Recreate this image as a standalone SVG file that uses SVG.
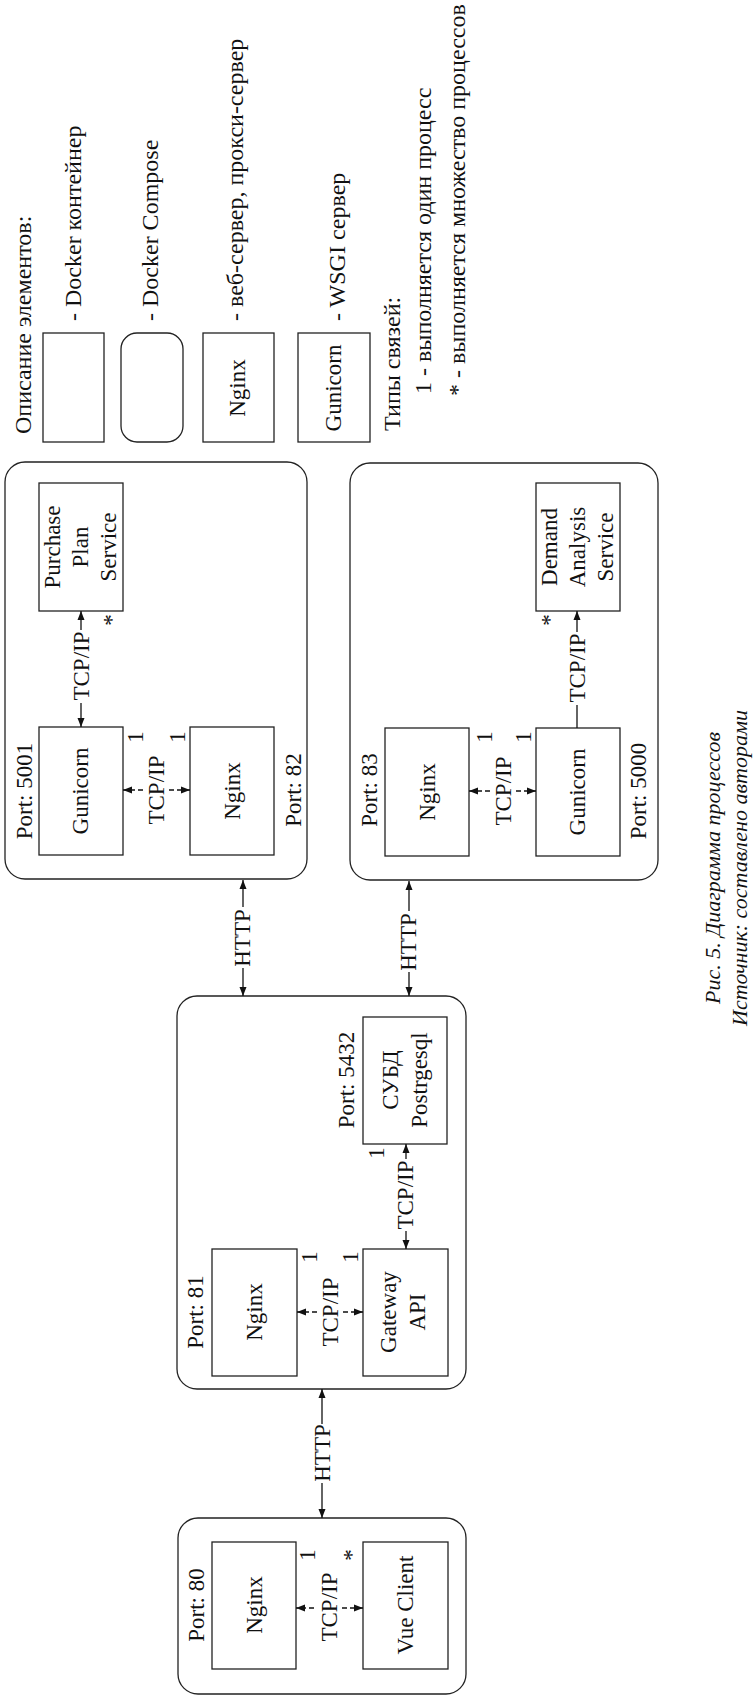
<svg xmlns="http://www.w3.org/2000/svg" width="753" height="1702" viewBox="0 0 753 1702">
<defs>
<marker id="ah" markerUnits="userSpaceOnUse" markerWidth="10" markerHeight="8" refX="9" refY="4" orient="auto"><path d="M0,0.5 L9,4 L0,7.5 z" fill="#111"/></marker>
</defs>
<style>
.t{font-family:"Liberation Serif","Times New Roman",serif;font-size:23px;fill:#111}
.lg{font-size:24px}
.m{text-anchor:middle}
.box{fill:#fff;stroke:#222;stroke-width:1.3}
.cont{fill:none;stroke:#222;stroke-width:1.3}
.ln{stroke:#111;stroke-width:1.3;fill:none}
.ar{marker-end:url(#ah)}
.dash{stroke-dasharray:5 3}
.cap{font-style:italic;font-size:22px}
</style>
<rect width="753" height="1702" fill="#fff"/>

<g id="legend">
<text class="t lg" x="31" y="434" transform="rotate(-90 31 434)">Описание элементов:</text>
<rect class="box" x="43" y="333" width="61" height="109"/>
<text class="t lg" x="81" y="321" transform="rotate(-90 81 321)">- Docker контейнер</text>
<rect class="box" x="121" y="333" width="62" height="109" rx="16"/>
<text class="t lg" x="158" y="321" transform="rotate(-90 158 321)">- Docker Compose</text>
<rect class="box" x="203" y="333" width="71" height="109"/>
<text class="t m" x="245" y="388" transform="rotate(-90 245 388)">Nginx</text>
<text class="t lg" x="243" y="321" transform="rotate(-90 243 321)">- веб-сервер, прокси-сервер</text>
<rect class="box" x="298" y="333" width="72" height="109"/>
<text class="t m" x="341" y="388" transform="rotate(-90 341 388)">Gunicorn</text>
<text class="t lg" x="345" y="321" transform="rotate(-90 345 321)">- WSGI сервер</text>
<text class="t lg" x="400" y="431" transform="rotate(-90 400 431)">Типы связей:</text>
<text class="t lg" x="431" y="394" transform="rotate(-90 431 394)">1 - выполняется один процесс</text>
<text class="t lg" x="465" y="396" transform="rotate(-90 465 396)">* - выполняется множество процессов</text>
</g>

<g id="compose-purchase">
<rect class="cont" x="5" y="462" width="302" height="417" rx="20"/>
<text class="t m" x="32" y="791" transform="rotate(-90 32 791)">Port: 5001</text>
<text class="t m" x="301" y="790" transform="rotate(-90 301 790)">Port: 82</text>
</g>
<g id="purchase-plan-service">
<rect class="box" x="39" y="483" width="84" height="128"/>
<text class="t m" x="60" y="547" transform="rotate(-90 60 547)"><tspan x="60" dy="0">Purchase</tspan><tspan x="60" dy="28">Plan</tspan><tspan x="60" dy="28">Service</tspan></text>
</g>
<g id="gunicorn-5001">
<rect class="box" x="39" y="727" width="84" height="128"/>
<text class="t m" x="88" y="791" transform="rotate(-90 88 791)">Gunicorn</text>
</g>
<g id="nginx-82">
<rect class="box" x="190" y="727" width="84" height="128"/>
<text class="t m" x="240" y="791" transform="rotate(-90 240 791)">Nginx</text>
</g>

<g id="compose-demand">
<rect class="cont" x="350" y="463" width="308" height="417" rx="20"/>
<text class="t m" x="377" y="790" transform="rotate(-90 377 790)">Port: 83</text>
<text class="t m" x="646" y="791" transform="rotate(-90 646 791)">Port: 5000</text>
</g>
<g id="demand-analysis-service">
<rect class="box" x="536" y="483" width="84" height="128"/>
<text class="t m" x="557" y="547" transform="rotate(-90 557 547)"><tspan x="557" dy="0">Demand</tspan><tspan x="557" dy="28">Analysis</tspan><tspan x="557" dy="28">Service</tspan></text>
</g>
<g id="nginx-83">
<rect class="box" x="385" y="728" width="84" height="128"/>
<text class="t m" x="435" y="792" transform="rotate(-90 435 792)">Nginx</text>
</g>
<g id="gunicorn-5000">
<rect class="box" x="536" y="728" width="84" height="128"/>
<text class="t m" x="585" y="792" transform="rotate(-90 585 792)">Gunicorn</text>
</g>

<g id="compose-gateway">
<rect class="cont" x="177" y="996" width="289" height="393" rx="20"/>
<text class="t m" x="203" y="1312" transform="rotate(-90 203 1312)">Port: 81</text>
<text class="t m" x="354" y="1080" transform="rotate(-90 354 1080)">Port: 5432</text>
</g>
<g id="nginx-81">
<rect class="box" x="212" y="1249" width="85" height="127"/>
<text class="t m" x="262" y="1312" transform="rotate(-90 262 1312)">Nginx</text>
</g>
<g id="gateway-api">
<rect class="box" x="363" y="1249" width="85" height="127"/>
<text class="t m" x="396" y="1312" transform="rotate(-90 396 1312)"><tspan x="396" dy="0">Gateway</tspan><tspan x="396" dy="29">API</tspan></text>
</g>
<g id="postgresql">
<rect class="box" x="363" y="1017" width="84" height="127"/>
<text class="t m" x="398" y="1080" transform="rotate(-90 398 1080)"><tspan x="398" dy="0">СУБД</tspan><tspan x="398" dy="29">Postrgesql</tspan></text>
</g>

<g id="compose-client">
<rect class="cont" x="178" y="1518" width="288" height="176" rx="20"/>
<text class="t m" x="204" y="1605" transform="rotate(-90 204 1605)">Port: 80</text>
</g>
<g id="nginx-80">
<rect class="box" x="212" y="1542" width="84" height="127"/>
<text class="t m" x="262" y="1605" transform="rotate(-90 262 1605)">Nginx</text>
</g>
<g id="vue-client">
<rect class="box" x="363" y="1542" width="85" height="127"/>
<text class="t m" x="413" y="1605" transform="rotate(-90 413 1605)">Vue Client</text>
</g>

<g id="connectors">
<line class="ln ar" x1="243" y1="907" x2="243" y2="880"/>
<line class="ln ar" x1="243" y1="968" x2="243" y2="996"/>
<text class="t m" x="250" y="938" transform="rotate(-90 250 938)">HTTP</text>
<line class="ln ar" x1="409" y1="911" x2="409" y2="881"/>
<line class="ln ar" x1="409" y1="972" x2="409" y2="996"/>
<text class="t m" x="416" y="942" transform="rotate(-90 416 942)">HTTP</text>
<line class="ln ar" x1="322" y1="1424" x2="322" y2="1389"/>
<line class="ln ar" x1="322" y1="1483" x2="322" y2="1518"/>
<text class="t m" x="330" y="1453" transform="rotate(-90 330 1453)">HTTP</text>

<line class="ln ar" x1="81" y1="630" x2="81" y2="611"/>
<line class="ln ar" x1="81" y1="703" x2="81" y2="727"/>
<text class="t m" x="89" y="666" transform="rotate(-90 89 666)">TCP/IP</text>
<line class="ln ar dash" x1="143" y1="790" x2="123" y2="790"/>
<line class="ln ar dash" x1="169" y1="790" x2="190" y2="790"/>
<text class="t m" x="164" y="790" transform="rotate(-90 164 790)">TCP/IP</text>
<text class="t m" x="143" y="737" transform="rotate(-90 143 737)">1</text>
<text class="t m" x="185" y="737" transform="rotate(-90 185 737)">1</text>
<text class="t m" x="119" y="620" transform="rotate(-90 119 620)">*</text>

<line class="ln ar" x1="577" y1="632" x2="577" y2="611"/>
<line class="ln" x1="577" y1="705" x2="577" y2="728"/>
<text class="t m" x="585" y="668" transform="rotate(-90 585 668)">TCP/IP</text>
<line class="ln ar dash" x1="490" y1="791" x2="469" y2="791"/>
<line class="ln ar dash" x1="516" y1="791" x2="536" y2="791"/>
<text class="t m" x="511" y="791" transform="rotate(-90 511 791)">TCP/IP</text>
<text class="t m" x="492" y="737" transform="rotate(-90 492 737)">1</text>
<text class="t m" x="531" y="737" transform="rotate(-90 531 737)">1</text>
<text class="t m" x="557" y="620" transform="rotate(-90 557 620)">*</text>

<line class="ln ar dash" x1="317" y1="1312" x2="297" y2="1312"/>
<line class="ln ar dash" x1="343" y1="1312" x2="363" y2="1312"/>
<text class="t m" x="338" y="1312" transform="rotate(-90 338 1312)">TCP/IP</text>
<text class="t m" x="317" y="1257" transform="rotate(-90 317 1257)">1</text>
<text class="t m" x="358" y="1257" transform="rotate(-90 358 1257)">1</text>
<line class="ln ar" x1="406" y1="1159" x2="406" y2="1144"/>
<line class="ln ar" x1="406" y1="1231" x2="406" y2="1249"/>
<text class="t m" x="413" y="1195" transform="rotate(-90 413 1195)">TCP/IP</text>
<text class="t m" x="384" y="1153" transform="rotate(-90 384 1153)">1</text>

<line class="ln ar dash" x1="314" y1="1608" x2="296" y2="1608"/>
<line class="ln ar dash" x1="342" y1="1608" x2="363" y2="1608"/>
<text class="t m" x="337" y="1607" transform="rotate(-90 337 1607)">TCP/IP</text>
<text class="t m" x="315" y="1555" transform="rotate(-90 315 1555)">1</text>
<text class="t m" x="359" y="1555" transform="rotate(-90 359 1555)">*</text>
</g>

<g id="caption">
<text class="t cap m" x="720" y="868" transform="rotate(-90 720 868)">Рис. 5. Диаграмма процессов</text>
<text class="t cap m" x="747" y="868" transform="rotate(-90 747 868)">Источник: составлено авторами</text>
</g>
</svg>
